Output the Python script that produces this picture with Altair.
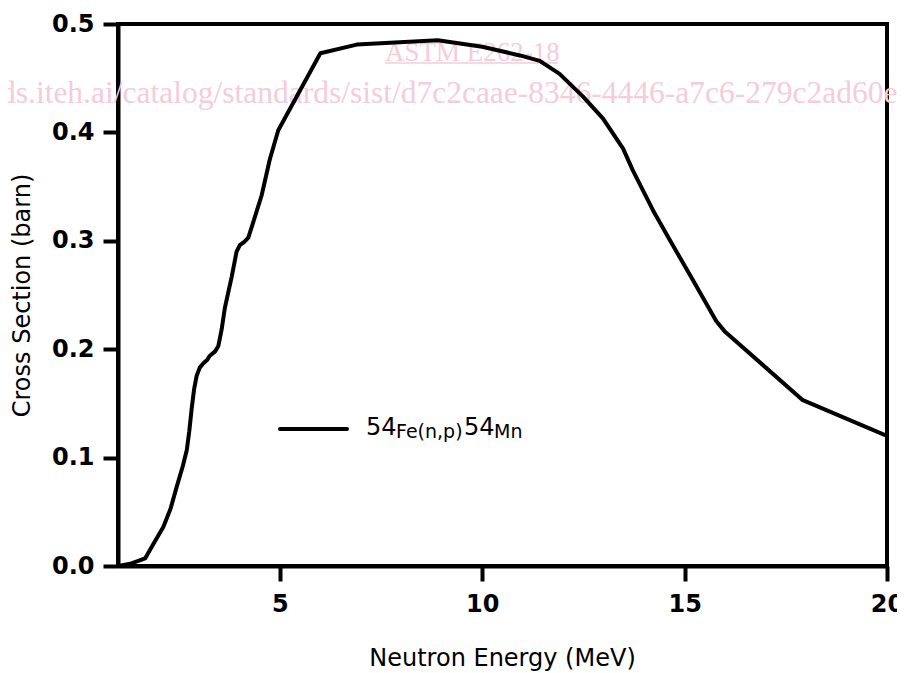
import altair as alt
import pandas as pd

# Neutron energy (MeV) and cross section (barn)
energy = [1.0, 1.3, 1.67, 1.87, 2.12, 2.3, 2.45, 2.6, 2.70, 2.76, 2.82, 2.88, 2.94,
          3.02, 3.11, 3.2, 3.27, 3.40, 3.48, 3.56, 3.64, 3.81, 3.93, 4.01, 4.12,
          4.22, 4.34, 4.55, 4.75, 4.96, 6.0, 6.9, 8.9, 10.0, 10.93, 11.42, 11.91,
          12.49, 12.98, 13.48, 13.72, 14.22, 14.63, 15.2, 15.78, 16.0, 17.92, 20.0]
xsec = [0.0, 0.002, 0.007, 0.02, 0.036, 0.053, 0.073, 0.092, 0.107, 0.124, 0.145,
        0.163, 0.175, 0.183, 0.187, 0.190, 0.194, 0.198, 0.203, 0.218, 0.238, 0.267,
        0.290, 0.296, 0.299, 0.303, 0.317, 0.342, 0.375, 0.402, 0.473, 0.481, 0.485,
        0.479, 0.471, 0.466, 0.454, 0.433, 0.413, 0.385, 0.365, 0.328, 0.301, 0.264,
        0.226, 0.216, 0.153, 0.120]

x_ticks = [5, 10, 15, 20]
y_ticks = [0.0, 0.1, 0.2, 0.3, 0.4, 0.5]

x_title = "Neutron Energy (MeV)"
y_title = "Cross Section (barn)"
legend_parts = ["54", "Fe(n,p)", "54", "Mn"]
watermark_title = "ASTM E262-18"
watermark_url = "ds.iteh.ai/catalog/standards/sist/d7c2caae-8346-4446-a7c6-279c2ad60e14/astm-e262-18"

df = pd.DataFrame({"E": energy, "sigma": xsec})
one = pd.DataFrame({"k": [0]})

PINK = "#f5ccd9"
FONT = "DejaVu Sans"

curve = alt.Chart(df).mark_line(color="black", strokeWidth=4, strokeJoin="round",
                                strokeCap="round", clip=True).encode(
    x=alt.X("E:Q",
            scale=alt.Scale(domain=[1, 20], nice=False, zero=False),
            axis=alt.Axis(values=x_ticks, format="d", title=x_title,
                          labelFont=FONT, labelFontWeight="bold", labelFontSize=24,
                          labelColor="black", labelPadding=11, labelFlush=False,
                          tickSize=15, tickWidth=4, tickColor="black",
                          domainColor="black", domainWidth=4, grid=False,
                          titleFont=FONT, titleFontSize=24, titleFontWeight="normal",
                          titleColor="black", titleX=384, titleY=99,
                          titleAlign="center", titleBaseline="alphabetic")),
    y=alt.Y("sigma:Q",
            scale=alt.Scale(domain=[0, 0.5], nice=False, zero=True),
            axis=alt.Axis(values=y_ticks, format=".1f", title=y_title,
                          labelFont=FONT, labelFontWeight="bold", labelFontSize=24,
                          labelColor="black", labelPadding=9, labelFlush=False,
                          tickSize=15, tickWidth=4, tickColor="black",
                          domainColor="black", domainWidth=4, grid=False,
                          titleFont=FONT, titleFontSize=24, titleFontWeight="normal",
                          titleColor="black", titleX=-96, titleY=271, titleAngle=270,
                          titleAlign="center", titleBaseline="middle")),
)

def label(s, x, y, size, font=FONT, color="black"):
    return alt.Chart(one).mark_text(text=s, font=font, fontSize=size, color=color,
                                    align="left", baseline="alphabetic").encode(
        x=alt.value(x), y=alt.value(y))

wm_title = label(watermark_title, 267, 37, 27, font="Liberation Serif", color=PINK)
wm_line = alt.Chart(one).mark_rule(color=PINK, strokeWidth=1.5).encode(
    x=alt.value(267), x2=alt.value(440), y=alt.value(39))
wm_url = label(watermark_url, -118, 79, 31.5, font="Liberation Serif", color=PINK)

leg_line = alt.Chart(one).mark_rule(color="black", strokeWidth=4, strokeCap="round").encode(
    x=alt.value(162), x2=alt.value(229), y=alt.value(405))
leg1 = label(legend_parts[0], 248, 411, 24)
leg2 = label(legend_parts[1], 278, 414, 19)
leg3 = label(legend_parts[2], 346, 411, 24)
leg4 = label(legend_parts[3], 376, 414, 19)

chart = alt.layer(wm_url, wm_title, wm_line, curve, leg_line, leg1, leg2, leg3, leg4).properties(
    width=769, height=542,
    autosize=alt.AutoSizeParams(type="none"),
    padding={"left": 110, "top": 16, "right": 10, "bottom": 105},
    background="white",
).configure_view(stroke="black", strokeWidth=4)

chart.save("out.html", embed_options={"renderer": "svg", "actions": False})
